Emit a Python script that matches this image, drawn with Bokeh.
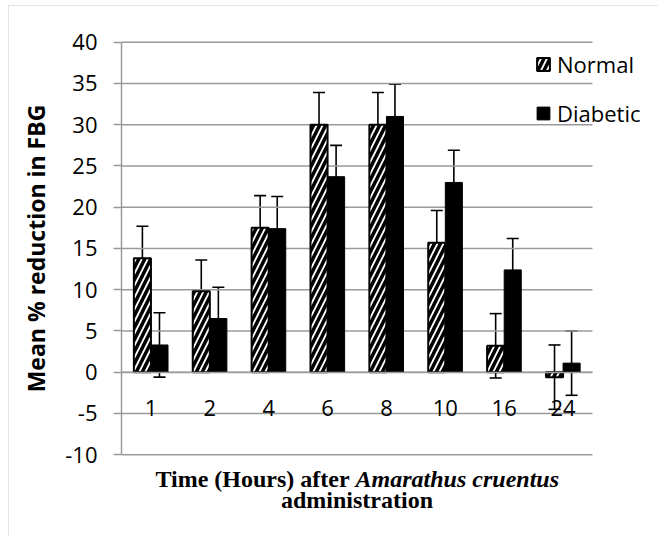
from bokeh.plotting import figure
from bokeh.models import (Range1d, FixedTicker, ColumnDataSource, Whisker, TeeHead,
                          Legend, LegendItem, Label, BoxAnnotation)
from bokeh.embed import file_html
from bokeh.resources import INLINE

hours = ["1", "2", "4", "6", "8", "10", "16", "24"]
normal = [13.8, 9.8, 17.5, 30.0, 30.0, 15.7, 3.2, -0.6]
normal_err = [3.9, 3.8, 3.9, 3.9, 3.9, 3.9, 3.9, 3.9]
diabetic = [3.3, 6.5, 17.4, 23.7, 31.0, 23.0, 12.4, 1.1]
diabetic_err = [3.9, 3.8, 3.9, 3.8, 3.9, 3.9, 3.8, 3.9]
y_ticks = list(range(-10, 41, 5))

GRID = "#9a9a9a"
FONT = "Open Sans"
SERIF = "Liberation Serif"
offset = 0.145
bar_w = 0.29
n = len(hours)
y_lo, y_hi = y_ticks[0], y_ticks[-1]

centers = [i + 0.5 for i in range(n)]
src_n = ColumnDataSource(dict(
    x=[c - offset for c in centers], top=normal,
    upper=[v + e for v, e in zip(normal, normal_err)],
    lower=[v - e for v, e in zip(normal, normal_err)]))
src_d = ColumnDataSource(dict(
    x=[c + offset for c in centers], top=diabetic,
    upper=[v + e for v, e in zip(diabetic, diabetic_err)],
    lower=[v - e for v, e in zip(diabetic, diabetic_err)]))

# frame covers the whole canvas; the plot area (0..n, -10..40) sits inside it
W, H = 658, 536
px_x = 58.875   # pixels per category
px_y = 8.25     # pixels per unit
x0 = -121 / px_x
y1 = y_hi + 41.7 / px_y
p = figure(width=W, height=H, output_backend="svg", toolbar_location=None,
           x_range=Range1d(x0, x0 + W / px_x), y_range=Range1d(y1 - H / px_y, y1),
           min_border=0)
p.outline_line_color = None
p.background_fill_color = "white"
p.border_fill_color = "white"
p.xgrid.grid_line_color = None
p.ygrid.grid_line_color = None

# chart-area border (only top and left edges fall inside the picture)
p.add_layout(BoxAnnotation(left=8, right=3000, top=H - 5, bottom=-3000,
                           left_units="screen", right_units="screen",
                           top_units="screen", bottom_units="screen",
                           fill_alpha=0, line_color="#a8a8a8", line_width=1))

# horizontal gridlines across the plot area
p.segment(x0=[0] * len(y_ticks), x1=[n] * len(y_ticks), y0=y_ticks, y1=y_ticks,
          line_color=GRID, line_width=1.5)

r_n = p.vbar(x="x", top="top", bottom=0, width=bar_w, source=src_n,
             fill_color="white", line_color="black", line_width=2,
             hatch_pattern="/", hatch_color="black", hatch_weight=3.5, hatch_scale=12)
r_d = p.vbar(x="x", top="top", bottom=0, width=bar_w, source=src_d,
             fill_color="black", line_color="black", line_width=1)

for src in (src_n, src_d):
    w = Whisker(base="x", upper="upper", lower="lower", source=src,
                line_color="black", line_width=1.6,
                upper_head=TeeHead(size=12, line_color="black", line_width=1.6),
                lower_head=TeeHead(size=12, line_color="black", line_width=1.6))
    p.add_layout(w)

# y axis at x = 0
p.yaxis.fixed_location = 0
p.yaxis.bounds = (y_lo, y_hi)
p.yaxis.ticker = FixedTicker(ticks=y_ticks)
p.yaxis.major_label_overrides = {t: str(t) for t in y_ticks}
p.yaxis.axis_line_color = GRID
p.yaxis.axis_line_width = 1.5
p.yaxis.major_tick_line_color = GRID
p.yaxis.major_tick_line_width = 1.5
p.yaxis.major_tick_out = 8
p.yaxis.major_tick_in = 0
p.yaxis.minor_tick_line_color = None
p.yaxis.major_label_text_font = FONT
p.yaxis.major_label_text_font_size = "22px"
p.yaxis.major_label_text_color = "black"
p.yaxis.major_label_standoff = 16
p.yaxis.axis_label = "Mean % reduction in FBG"
p.yaxis.axis_label_text_font = FONT
p.yaxis.axis_label_text_font_style = "bold"
p.yaxis.axis_label_text_font_size = "23px"
p.yaxis.axis_label_text_color = "black"
p.yaxis.axis_label_standoff = 10

# x axis at y = 0
p.xaxis.fixed_location = 0
p.xaxis.bounds = (0, n)
p.xaxis.ticker = FixedTicker(ticks=centers)
p.xaxis.major_label_overrides = {c: h for c, h in zip(centers, hours)}
p.xaxis.axis_line_color = GRID
p.xaxis.axis_line_width = 1.5
p.xaxis.major_tick_line_color = None
p.xaxis.major_tick_out = 0
p.xaxis.major_tick_in = 0
p.xaxis.minor_tick_line_color = None
p.xaxis.major_label_text_font = FONT
p.xaxis.major_label_text_font_size = "22px"
p.xaxis.major_label_text_color = "black"
p.xaxis.major_label_standoff = 28

# x axis title (mixed styles)
p.add_layout(Label(x=3.874, y=-12.9, text="Time (Hours) after", text_align="right",
                   text_baseline="alphabetic", text_font=SERIF, text_font_style="bold",
                   text_font_size="24px", text_color="black"))
p.add_layout(Label(x=3.976, y=-12.9, text="Amarathus cruentus", text_align="left",
                   text_baseline="alphabetic", text_font=SERIF,
                   text_font_style="bold italic", text_font_size="24px", text_color="black"))
p.add_layout(Label(x=n / 2, y=-15.55, text="administration", text_align="center",
                   text_baseline="alphabetic", text_font=SERIF, text_font_style="bold",
                   text_font_size="24px", text_color="black"))

legend = Legend(items=[LegendItem(label="Normal", renderers=[r_n]),
                       LegendItem(label="Diabetic", renderers=[r_d])],
                location=(535, H - 128), orientation="vertical",
                border_line_color=None, background_fill_alpha=0,
                padding=0, margin=0, spacing=19, label_height=22,
                glyph_width=16, glyph_height=16, label_standoff=6,
                label_text_font=FONT, label_text_font_size="22px",
                label_text_color="black")
p.add_layout(legend)

open("out.html", "w").write(file_html(p, INLINE))
